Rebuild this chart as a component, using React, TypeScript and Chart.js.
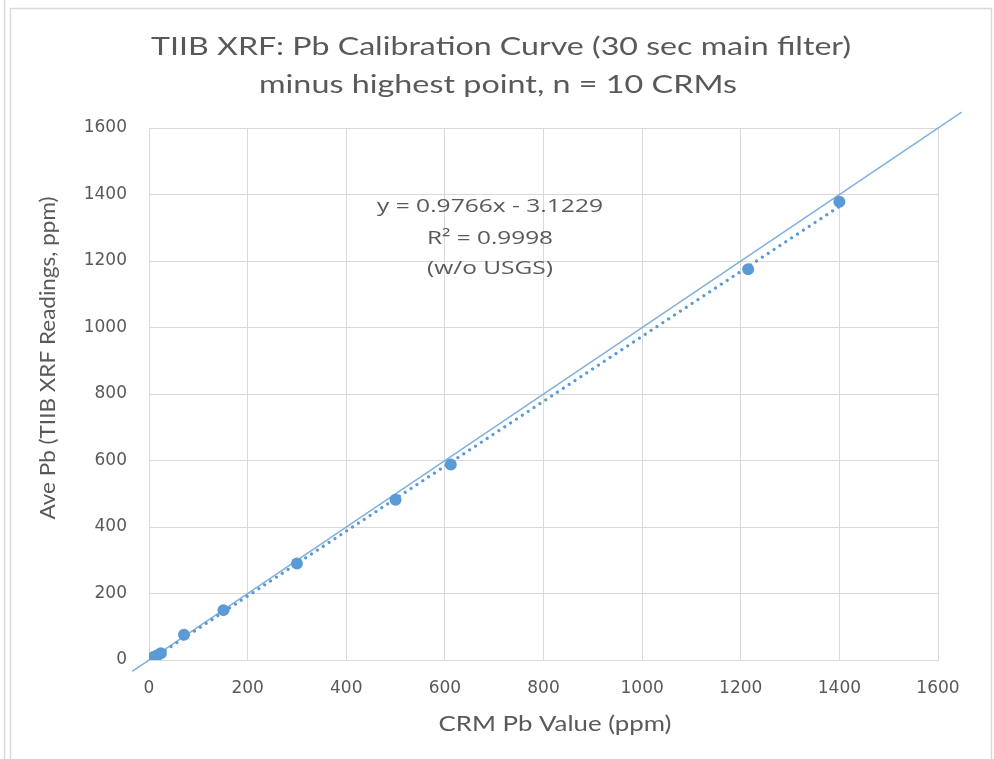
import React, { useEffect, useRef } from 'react';
import { Chart, registerables } from 'chart.js';

Chart.register(...registerables);

// ---- data ----
const TITLE_LINES = ['TIIB XRF: Pb Calibration Curve (30 sec main filter)', 'minus highest point, n = 10 CRMs'];
const X_TITLE = 'CRM Pb Value (ppm)';
const Y_TITLE = 'Ave Pb (TIIB XRF Readings, ppm)';
const EQUATION_LINES = ['y = 0.9766x - 3.1229', 'R\u00B2 = 0.9998', '(w/o USGS)'];

const crmValues = [9, 17, 24, 71, 151, 300, 500, 612, 1215, 1400];
const xrfReadings = [9, 14, 20, 76, 150, 290, 482, 588, 1175, 1378];
const trendX = [9, 1400];
const trendY = [5.7, 1364];
const refX = [-34, 1648];
const refY = [-34, 1648];
const AXIS_MIN = 0;
const AXIS_MAX = 1600;
const AXIS_STEP = 200;

const W = 994;
const H = 759;
const BLUE = '#5b9bd5';
const TEXT = '#595959';
const GRID = '#d9d9d9';

function drawFitted(ctx: CanvasRenderingContext2D, text: string, cx: number, cy: number, px: number, family: string, width: number, rotate = false) {
  ctx.save();
  ctx.font = `${px}px ${family}`;
  ctx.fillStyle = TEXT;
  ctx.textAlign = 'center';
  ctx.textBaseline = 'middle';
  const m = ctx.measureText(text).width;
  const sx = width / m;
  ctx.translate(cx, cy);
  if (rotate) ctx.rotate(-Math.PI / 2);
  ctx.scale(sx, 1);
  ctx.fillText(text, 0, 0);
  ctx.restore();
}

const decor = {
  id: 'decor',
  beforeDraw(chart: any) {
    const ctx = chart.ctx as CanvasRenderingContext2D;
    ctx.save();
    ctx.fillStyle = '#ffffff';
    ctx.fillRect(0, 0, W, H);
    ctx.strokeStyle = GRID;
    ctx.lineWidth = 1.5;
    ctx.beginPath();
    ctx.moveTo(4.5, 0);
    ctx.lineTo(4.5, H);
    ctx.stroke();
    ctx.beginPath();
    ctx.moveTo(10.5, H + 2);
    ctx.lineTo(10.5, 8.5);
    ctx.lineTo(991.5, 8.5);
    ctx.lineTo(991.5, H + 2);
    ctx.stroke();
    ctx.restore();
  },
  afterDraw(chart: any) {
    const ctx = chart.ctx as CanvasRenderingContext2D;
    drawFitted(ctx, TITLE_LINES[0], 501, 47, 25, 'Lato', 700);
    drawFitted(ctx, TITLE_LINES[1], 498, 85, 25, 'Lato', 478);
    drawFitted(ctx, X_TITLE, 555, 724, 21, 'Lato', 233);
    drawFitted(ctx, Y_TITLE, 48, 358, 21, 'Lato', 323, true);
    drawFitted(ctx, EQUATION_LINES[0], 490, 207, 19, '"Open Sans"', 226);
    drawFitted(ctx, EQUATION_LINES[1], 490, 239, 19, '"Open Sans"', 126);
    drawFitted(ctx, EQUATION_LINES[2], 490, 269, 19, '"Open Sans"', 126);
  },
};

export default function App() {
  const ref = useRef<HTMLCanvasElement>(null);
  useEffect(() => {
    if (!ref.current) return;
    const points = crmValues.map((x, i) => ({ x, y: xrfReadings[i] }));
    const trend = trendX.map((x, i) => ({ x, y: trendY[i] }));
    const refLine = refX.map((x, i) => ({ x, y: refY[i] }));
    const tickFont = { family: '"DejaVu Sans"', size: 17 };
    const fmt = (v: any) => String(v);
    const chart = new Chart(ref.current, {
      type: 'scatter',
      data: {
        datasets: [
          {
            label: 'CRMs',
            data: points,
            backgroundColor: BLUE,
            borderColor: BLUE,
            pointRadius: 6,
            pointHoverRadius: 6,
            borderWidth: 0,
            showLine: false,
          },
          {
            label: 'Linear fit',
            data: trend,
            showLine: true,
            borderColor: BLUE,
            borderWidth: 3.2,
            borderDash: [0.01, 7],
            borderCapStyle: 'round',
            pointRadius: 0,
            fill: false,
          },
          {
            label: '1:1',
            data: refLine,
            showLine: true,
            borderColor: '#7fb0e0',
            borderWidth: 1.5,
            pointRadius: 0,
            fill: false,
            clip: false,
          },
        ] as any,
      },
      options: {
        responsive: false,
        animation: false,
        devicePixelRatio: 1,
        layout: { padding: { top: 128, right: 56, bottom: 0, left: 0 } },
        plugins: {
          legend: { display: false },
          title: { display: false },
          tooltip: { enabled: false },
        },
        scales: {
          x: {
            type: 'linear',
            min: AXIS_MIN,
            max: AXIS_MAX,
            ticks: { stepSize: AXIS_STEP, color: TEXT, font: tickFont, padding: 18, callback: fmt },
            grid: { color: GRID, lineWidth: 1, drawTicks: false },
            border: { color: GRID },
            afterFit: (s: any) => { s.height = 99; },
          },
          y: {
            type: 'linear',
            min: AXIS_MIN,
            max: AXIS_MAX,
            ticks: { stepSize: AXIS_STEP, color: TEXT, font: tickFont, padding: 22, callback: fmt },
            grid: { color: GRID, lineWidth: 1, drawTicks: false },
            border: { color: GRID },
            afterFit: (s: any) => { s.width = 149; },
          },
        },
      } as any,
      plugins: [decor],
    });
    return () => chart.destroy();
  }, []);
  return (
    <div style={{ position: 'absolute', left: 0, top: 0, width: W, height: H, background: '#fff' }}>
      <canvas ref={ref} width={W} height={H} style={{ display: 'block' }} />
    </div>
  );
}
